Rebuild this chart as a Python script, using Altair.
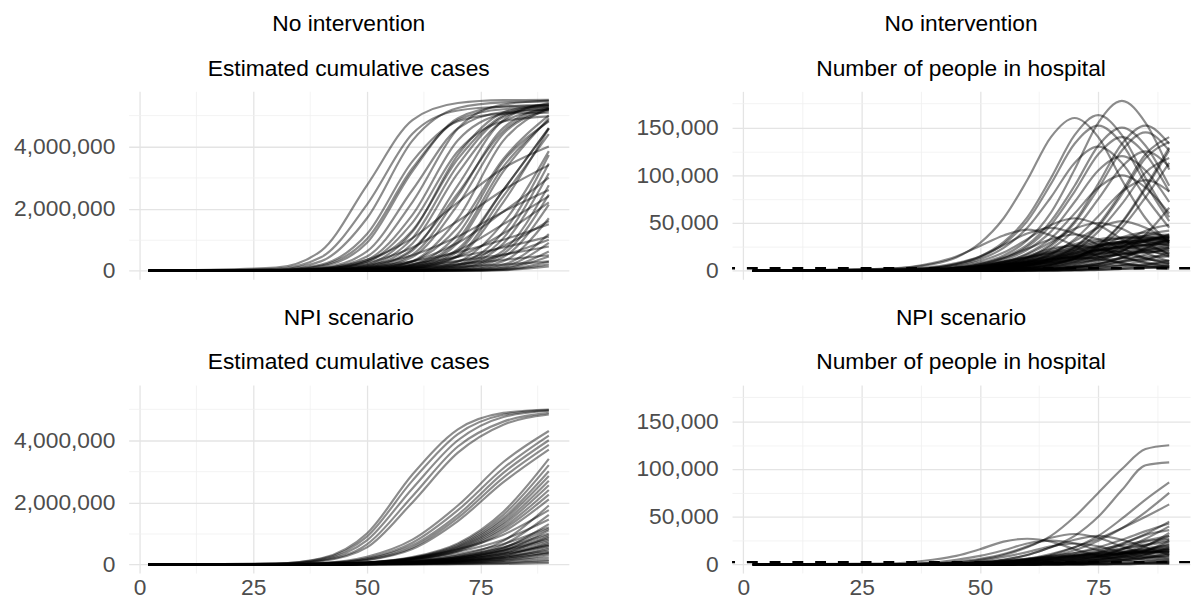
import altair as alt
import pandas as pd

# ---------------- data ----------------
DAYS_CASES = [2, 30, 40, 50, 60, 70, 80, 90]
DAYS_HOSP = [2, 30, 40, 45, 50, 55, 60, 65, 70, 75, 80, 85, 90]

# No intervention: estimated cumulative cases (millions), one list per simulation run
NOINT_CASES_M = [
    [0, 0.10, 0.65, 2.75, 4.85, 5.40, 5.49, 5.50],
    [0, 0.06, 0.44, 2.13, 4.41, 5.16, 5.28, 5.30],
    [0, 0.04, 0.31, 1.69, 4.19, 5.24, 5.42, 5.45],
    [0, 0.03, 0.20, 1.18, 3.52, 4.81, 5.06, 5.09],
    [0, 0.02, 0.14, 0.90, 3.20, 4.91, 5.29, 5.34],
    [0, 0.01, 0.09, 0.62, 2.60, 4.58, 5.11, 5.19],
    [0, 0.01, 0.07, 0.46, 2.21, 4.58, 5.35, 5.48],
    [0, 0.00, 0.04, 0.29, 1.55, 3.85, 4.81, 4.97],
    [0, 0.00, 0.03, 0.21, 1.25, 3.73, 5.09, 5.36],
    [0, 0.00, 0.02, 0.14, 0.88, 3.14, 4.81, 5.19],
    [0, 0.00, 0.01, 0.10, 0.65, 2.75, 4.85, 5.40],
    [0, 0.00, 0.01, 0.06, 0.44, 2.13, 4.41, 5.16],
    [0, 0.00, 0.01, 0.04, 0.31, 1.69, 4.19, 5.24],
    [0, 0.00, 0.00, 0.03, 0.20, 1.18, 3.52, 4.81],
    [0, 0.00, 0.00, 0.02, 0.14, 0.90, 3.20, 4.91],
    [0, 0.00, 0.00, 0.01, 0.09, 0.62, 2.60, 4.58],
    [0, 0.00, 0.00, 0.01, 0.07, 0.46, 2.21, 4.58],
    [0, 0.00, 0.00, 0.00, 0.04, 0.29, 1.55, 3.85],
    [0, 0.00, 0.00, 0.00, 0.03, 0.21, 1.25, 3.73],
    [0, 0.00, 0.00, 0.00, 0.02, 0.14, 0.88, 3.14],
    [0, 0.00, 0.00, 0.00, 0.01, 0.10, 0.65, 2.75],
    [0, 0.00, 0.00, 0.00, 0.01, 0.06, 0.44, 2.13],
    [0, 0.00, 0.00, 0.00, 0.01, 0.04, 0.31, 1.69],
    [0, 0.00, 0.00, 0.00, 0.00, 0.03, 0.20, 1.18],
    [0, 0.00, 0.00, 0.00, 0.00, 0.02, 0.14, 0.90],
    [0, 0.00, 0.00, 0.00, 0.00, 0.01, 0.09, 0.62],
    [0, 0.00, 0.00, 0.00, 0.00, 0.01, 0.07, 0.46],
    [0, 0.00, 0.00, 0.00, 0.00, 0.00, 0.04, 0.29],
    [0, 0.00, 0.00, 0.00, 0.00, 0.00, 0.03, 0.21],
    [0, 0.00, 0.00, 0.00, 0.00, 0.00, 0.02, 0.14],
    [0, 0.01, 0.04, 0.12, 0.30, 0.60, 1.00, 1.50],
    [0, 0.01, 0.03, 0.09, 0.22, 0.45, 0.75, 1.10],
    [0, 0.01, 0.03, 0.07, 0.16, 0.32, 0.52, 0.78],
    [0, 0.00, 0.02, 0.05, 0.11, 0.21, 0.35, 0.50],
    [0, 0.00, 0.01, 0.03, 0.07, 0.13, 0.20, 0.30],
    [0, 0.01, 0.05, 0.18, 0.50, 1.10, 1.90, 2.60],
    [0, 0.01, 0.06, 0.25, 0.75, 1.60, 2.60, 3.40],
    [0, 0.02, 0.08, 0.35, 1.05, 2.20, 3.30, 4.00],
    [0, 0.00, 0.02, 0.08, 0.30, 0.90, 1.90, 3.00],
    [0, 0.00, 0.01, 0.05, 0.20, 0.65, 1.50, 2.40],
    [0, 0.02, 0.17, 1.02, 3.30, 4.85, 5.20, 5.25],
    [0, 0.01, 0.05, 0.35, 1.80, 4.20, 5.05, 5.20],
    [0, 0.00, 0.02, 0.17, 1.05, 3.40, 4.95, 5.30],
    [0, 0.00, 0.01, 0.08, 0.52, 2.40, 4.60, 5.25],
    [0, 0.00, 0.00, 0.02, 0.17, 1.00, 3.35, 4.85],
    [0, 0.00, 0.00, 0.01, 0.08, 0.50, 2.40, 4.40],
    [0, 0.00, 0.00, 0.00, 0.02, 0.17, 1.05, 3.45],
    [0, 0.00, 0.00, 0.00, 0.01, 0.08, 0.55, 2.45],
    [0, 0.01, 0.06, 0.30, 1.30, 3.60, 5.00, 5.35],
    [0, 0.00, 0.02, 0.12, 0.70, 2.50, 4.50, 5.20],
    [0, 0.00, 0.01, 0.05, 0.30, 1.40, 3.60, 5.00],
    [0, 0.00, 0.00, 0.02, 0.12, 0.70, 2.60, 4.60],
    [0, 0.00, 0.01, 0.04, 0.15, 0.45, 1.20, 2.20],
    [0, 0.00, 0.01, 0.03, 0.10, 0.30, 0.80, 1.60],
    [0, 0.00, 0.00, 0.02, 0.06, 0.20, 0.50, 1.00],
]

# No intervention: number of people in hospital (thousands)
NOINT_HOSP_K = [
    [0, 2, 7, 14, 29, 55, 95, 140, 160, 140, 95, 55, 29],
    [0, 1, 3, 7, 14, 28, 52, 91, 133, 152, 133, 91, 52],
    [0, 0, 2, 4, 8, 16, 32, 61, 106, 155, 178, 155, 106],
    [0, 1, 3, 7, 15, 30, 56, 97, 142, 163, 142, 97, 56],
    [0, 0, 1, 3, 7, 14, 27, 52, 89, 131, 150, 131, 89],
    [0, 0, 1, 1, 3, 6, 13, 26, 50, 86, 126, 145, 126],
    [0, 0, 1, 2, 3, 7, 14, 28, 52, 91, 133, 152, 133],
    [0, 0, 0, 1, 1, 3, 6, 13, 25, 48, 83, 122, 140],
    [0, 0, 0, 1, 1, 3, 6, 12, 24, 46, 80, 118, 135],
    [0, 1, 3, 6, 12, 24, 45, 77, 113, 130, 113, 77, 45],
    [0, 0, 1, 3, 5, 11, 22, 41, 72, 105, 120, 105, 72],
    [0, 0, 0, 0, 1, 1, 3, 6, 13, 26, 50, 86, 126],
    [0, 0, 0, 0, 1, 1, 3, 6, 12, 24, 45, 77, 113],
    [0, 0, 0, 0, 0, 1, 1, 2, 5, 10, 20, 38, 66],
    [0, 0, 0, 0, 1, 1, 3, 6, 13, 27, 51, 88, 129],
    [0, 0, 1, 2, 4, 9, 18, 34, 60, 87, 100, 87, 60],
    [0, 0, 0, 1, 2, 4, 9, 17, 33, 57, 83, 95, 83],
    [0, 0, 1, 1, 3, 5, 11, 23, 43, 75, 109, 125, 109],
    [0, 0, 1, 3, 6, 13, 25, 48, 83, 122, 140, 122, 83],
    [0, 0, 0, 1, 1, 2, 5, 11, 21, 41, 70, 103, 118],
    [0, 2, 8, 15, 26, 37, 43, 37, 26, 15, 8, 4, 2],
    [0, 1, 2, 5, 10, 19, 33, 48, 55, 48, 33, 19, 10],
    [0, 0, 1, 2, 5, 9, 17, 30, 44, 50, 44, 30, 17],
    [0, 0, 1, 1, 2, 5, 9, 18, 31, 45, 52, 45, 31],
    [0, 1, 4, 8, 15, 27, 39, 45, 39, 27, 15, 8, 4],
    [0, 0, 0, 0, 1, 2, 4, 7, 14, 24, 35, 40, 35],
    [0, 0, 0, 0, 0, 1, 2, 4, 9, 17, 29, 42, 48],
    [0, 0, 2, 3, 7, 13, 23, 33, 38, 33, 23, 13, 7],
    [0, 0, 0, 0, 0, 1, 2, 3, 6, 12, 21, 31, 35],
    [0, 0, 0, 0, 1, 1, 3, 5, 10, 18, 26, 30, 26],
    [0, 0, 0, 0, 0, 0, 1, 2, 3, 7, 13, 23, 33],
    [0, 0, 0, 1, 1, 2, 5, 9, 15, 22, 25, 22, 15],
    [0, 0, 0, 0, 0, 0, 1, 1, 3, 5, 10, 17, 24],
    [0, 0, 0, 0, 0, 1, 2, 4, 7, 12, 17, 20, 17],
    [0, 0, 0, 0, 0, 0, 0, 1, 1, 3, 6, 11, 20],
    [0, 0, 0, 0, 0, 0, 1, 1, 3, 5, 9, 13, 15],
    [0, 0, 0, 1, 2, 4, 8, 13, 19, 22, 19, 13, 8],
    [0, 0, 0, 0, 0, 0, 0, 0, 1, 2, 3, 6, 11],
    [0, 0, 0, 0, 0, 1, 1, 2, 4, 7, 10, 12, 10],
    [0, 0, 0, 0, 0, 0, 0, 1, 1, 3, 5, 7, 8],
    [0, 0, 1, 2, 5, 9, 15, 23, 26, 23, 15, 9, 5],
    [0, 0, 0, 0, 0, 0, 0, 0, 0, 1, 2, 3, 6],
    [0, 0, 0, 1, 1, 3, 5, 10, 18, 26, 30, 26, 18],
    [0, 0, 0, 0, 1, 2, 3, 7, 12, 21, 31, 36, 31],
    [0, 0, 1, 1, 3, 5, 8, 12, 14, 12, 8, 5, 3],
    [0, 0, 0, 0, 0, 0, 1, 2, 4, 7, 14, 24, 35],
    [0, 0, 0, 0, 0, 1, 1, 2, 4, 5, 6, 5, 4],
    [0, 0, 0, 0, 0, 0, 0, 0, 1, 1, 2, 3, 4],
    [0, 0, 0, 0, 0, 1, 1, 2, 4, 8, 14, 21, 24],
    [0, 0, 0, 0, 0, 1, 2, 4, 8, 14, 25, 37, 42],
    [0, 0, 1, 2, 4, 6, 9, 12, 15, 18, 21, 24, 27],
    [0, 0, 1, 2, 3, 5, 7, 9, 12, 14, 17, 19, 22],
    [0, 0, 0, 1, 2, 4, 6, 9, 13, 17, 22, 27, 32],
    [0, 0, 1, 3, 6, 10, 14, 18, 22, 26, 29, 32, 34],
    [0, 0, 1, 2, 4, 7, 11, 16, 21, 26, 30, 33, 36],
    [0, 0, 0, 1, 3, 5, 8, 12, 17, 22, 27, 31, 38],
    [0, 0, 1, 2, 3, 6, 9, 13, 17, 21, 24, 27, 29],
    [0, 0, 0, 1, 2, 3, 5, 8, 11, 14, 18, 22, 26],
    [0, 0, 1, 2, 4, 8, 13, 19, 24, 28, 30, 31, 30],
    [0, 0, 0, 1, 2, 4, 7, 11, 16, 21, 25, 28, 31],
    [0, 0, 1, 2, 4, 7, 11, 16, 22, 27, 31, 34, 36],
    [0, 0, 1, 2, 3, 6, 10, 15, 20, 25, 29, 32, 33],
    [0, 0, 0, 1, 3, 5, 9, 14, 19, 24, 28, 30, 31],
    [0, 0, 1, 2, 4, 6, 10, 14, 18, 22, 25, 27, 28],
    [0, 0, 0, 1, 2, 4, 7, 11, 15, 19, 23, 26, 29],
    [0, 0, 1, 2, 3, 5, 8, 11, 14, 17, 20, 22, 24],
    [0, 0, 0, 1, 2, 4, 6, 9, 12, 15, 18, 20, 21],
    [0, 0, 0, 1, 2, 3, 5, 7, 9, 11, 13, 15, 16],
    [0, 0, 1, 2, 4, 7, 12, 18, 24, 30, 34, 37, 38],
    [0, 0, 0, 1, 2, 3, 6, 10, 15, 20, 26, 32, 37],
    [0, 0, 1, 3, 5, 9, 14, 20, 26, 31, 34, 35, 34],
    [0, 0, 1, 2, 4, 8, 14, 21, 28, 33, 35, 34, 31],
]

# NPI scenario: estimated cumulative cases (millions)
NPI_CASES_M = [
    [0, 0.03, 0.20, 1.00, 2.90, 4.35, 4.88, 4.99],
    [0, 0.03, 0.18, 0.90, 2.70, 4.20, 4.82, 4.97],
    [0, 0.02, 0.15, 0.78, 2.45, 4.00, 4.75, 4.95],
    [0, 0.02, 0.13, 0.65, 2.20, 3.80, 4.60, 4.88],
    [0, 0.02, 0.11, 0.55, 2.00, 3.60, 4.50, 4.83],
    [0, 0.01, 0.05, 0.25, 0.80, 1.90, 3.30, 4.30],
    [0, 0.01, 0.04, 0.20, 0.70, 1.75, 3.10, 4.15],
    [0, 0.01, 0.04, 0.18, 0.62, 1.60, 2.95, 4.00],
    [0, 0.01, 0.03, 0.15, 0.55, 1.50, 2.80, 3.85],
    [0, 0.00, 0.03, 0.14, 0.50, 1.40, 2.65, 3.70],
    [0, 0.00, 0.02, 0.07, 0.24, 0.68, 1.70, 3.40],
    [0, 0.00, 0.02, 0.06, 0.22, 0.64, 1.60, 3.20],
    [0, 0.00, 0.02, 0.06, 0.21, 0.60, 1.50, 3.00],
    [0, 0.00, 0.01, 0.06, 0.20, 0.57, 1.43, 2.85],
    [0, 0.00, 0.01, 0.05, 0.19, 0.54, 1.35, 2.70],
    [0, 0.00, 0.01, 0.05, 0.18, 0.51, 1.28, 2.55],
    [0, 0.00, 0.01, 0.05, 0.17, 0.48, 1.20, 2.40],
    [0, 0.00, 0.01, 0.05, 0.16, 0.45, 1.13, 2.25],
    [0, 0.00, 0.01, 0.04, 0.15, 0.42, 1.05, 2.10],
    [0, 0.00, 0.01, 0.03, 0.10, 0.29, 0.76, 1.90],
    [0, 0.00, 0.02, 0.07, 0.21, 0.49, 0.96, 1.75],
    [0, 0.00, 0.01, 0.02, 0.08, 0.24, 0.64, 1.60],
    [0, 0.00, 0.01, 0.06, 0.17, 0.41, 0.80, 1.45],
    [0, 0.00, 0.01, 0.02, 0.07, 0.20, 0.52, 1.30],
    [0, 0.00, 0.01, 0.05, 0.14, 0.34, 0.66, 1.20],
    [0, 0.00, 0.01, 0.02, 0.06, 0.17, 0.44, 1.10],
    [0, 0.00, 0.01, 0.04, 0.12, 0.28, 0.55, 1.00],
    [0, 0.00, 0.00, 0.01, 0.05, 0.14, 0.36, 0.90],
    [0, 0.00, 0.01, 0.03, 0.10, 0.22, 0.44, 0.80],
    [0, 0.00, 0.00, 0.01, 0.04, 0.11, 0.28, 0.70],
    [0, 0.00, 0.01, 0.02, 0.07, 0.17, 0.33, 0.60],
    [0, 0.00, 0.00, 0.01, 0.03, 0.08, 0.20, 0.50],
    [0, 0.00, 0.00, 0.02, 0.05, 0.11, 0.22, 0.40],
    [0, 0.00, 0.00, 0.01, 0.02, 0.05, 0.12, 0.30],
    [0, 0.00, 0.00, 0.01, 0.03, 0.06, 0.12, 0.22],
    [0, 0.00, 0.00, 0.00, 0.01, 0.03, 0.07, 0.15],
    [0, 0.00, 0.00, 0.00, 0.01, 0.03, 0.05, 0.10],
    [0, 0.00, 0.00, 0.00, 0.00, 0.01, 0.02, 0.05],
    [0, 0.00, 0.01, 0.03, 0.08, 0.18, 0.38, 0.75],
    [0, 0.00, 0.01, 0.02, 0.05, 0.12, 0.25, 0.45],
    [0, 0.00, 0.00, 0.01, 0.04, 0.09, 0.18, 0.35],
    [0, 0.00, 0.01, 0.03, 0.09, 0.24, 0.55, 1.15],
    [0, 0.00, 0.01, 0.02, 0.06, 0.15, 0.35, 0.65],
    [0, 0.00, 0.01, 0.03, 0.08, 0.20, 0.45, 0.85],
    [0, 0.00, 0.00, 0.01, 0.04, 0.10, 0.24, 0.55],
    [0, 0.00, 0.01, 0.02, 0.05, 0.13, 0.30, 0.62],
    [0, 0.00, 0.01, 0.03, 0.09, 0.22, 0.48, 0.95],
    [0, 0.00, 0.00, 0.01, 0.03, 0.07, 0.16, 0.38],
]

# NPI scenario: number of people in hospital (thousands)
NPI_HOSP_K = [
    [0, 0, 1, 2, 5, 10, 18, 30, 50, 75, 100, 121, 125],
    [0, 0, 0, 1, 2, 5, 10, 18, 30, 50, 78, 104, 107],
    [0, 0, 0, 0, 1, 2, 5, 10, 18, 30, 48, 68, 86],
    [0, 0, 0, 0, 1, 2, 5, 9, 15, 25, 38, 55, 75],
    [0, 0, 0, 0, 1, 3, 6, 11, 18, 27, 38, 50, 63],
    [0, 0, 0, 0, 0, 1, 3, 5, 9, 14, 22, 32, 45],
    [0, 0, 0, 1, 2, 3, 5, 8, 12, 18, 26, 35, 43],
    [0, 1, 5, 9, 16, 24, 27, 24, 16, 9, 5, 2, 1],
    [0, 0, 1, 3, 6, 11, 19, 28, 32, 28, 19, 11, 6],
    [0, 0, 2, 5, 9, 15, 22, 25, 22, 15, 9, 5, 2],
    [0, 0, 1, 1, 3, 5, 10, 18, 26, 30, 26, 18, 10],
    [0, 0, 1, 2, 4, 8, 13, 19, 22, 19, 13, 8, 4],
    [0, 0, 0, 0, 0, 0, 1, 2, 4, 8, 16, 27, 40],
    [0, 0, 0, 0, 0, 1, 2, 3, 7, 12, 21, 31, 36],
    [0, 0, 0, 0, 0, 0, 1, 1, 2, 5, 10, 19, 33],
    [0, 0, 0, 0, 0, 0, 1, 1, 3, 6, 12, 20, 30],
    [0, 0, 0, 0, 0, 1, 1, 2, 5, 9, 16, 24, 27],
    [0, 0, 0, 0, 0, 0, 0, 1, 2, 4, 8, 14, 25],
    [0, 0, 0, 0, 0, 0, 1, 1, 2, 5, 9, 15, 22],
    [0, 0, 0, 0, 0, 0, 1, 2, 4, 7, 12, 17, 20],
    [0, 0, 0, 0, 0, 0, 0, 1, 1, 3, 5, 10, 18],
    [0, 0, 0, 0, 0, 0, 0, 1, 2, 3, 6, 11, 16],
    [0, 0, 0, 0, 0, 0, 1, 1, 3, 5, 8, 12, 14],
    [0, 0, 0, 0, 0, 0, 0, 0, 1, 2, 4, 7, 12],
    [0, 0, 0, 0, 0, 0, 0, 1, 1, 2, 4, 7, 10],
    [0, 0, 0, 0, 0, 0, 0, 1, 1, 3, 5, 7, 8],
    [0, 0, 0, 0, 0, 0, 0, 0, 1, 1, 2, 4, 6],
    [0, 0, 0, 0, 0, 0, 0, 0, 0, 1, 1, 2, 4],
    [0, 0, 0, 0, 0, 0, 0, 0, 0, 1, 1, 2, 3],
    [0, 0, 0, 0, 0, 0, 0, 0, 0, 0, 1, 1, 2],
    [0, 0, 0, 0, 0, 0, 0, 0, 0, 0, 0, 1, 1],
    [0, 0, 0, 1, 2, 4, 6, 8, 10, 12, 14, 16, 18],
    [0, 0, 0, 1, 2, 3, 5, 7, 9, 11, 13, 15, 17],
    [0, 0, 0, 1, 1, 2, 4, 6, 8, 10, 12, 14, 15],
    [0, 0, 0, 0, 1, 2, 3, 5, 7, 9, 11, 13, 13],
    [0, 0, 1, 1, 2, 4, 6, 9, 12, 16, 20, 25, 30],
    [0, 0, 0, 1, 2, 3, 5, 7, 10, 13, 17, 21, 26],
    [0, 0, 0, 1, 1, 2, 3, 5, 7, 9, 11, 13, 15],
    [0, 0, 0, 0, 1, 2, 3, 4, 6, 8, 10, 12, 13],
    [0, 0, 1, 1, 2, 3, 5, 7, 9, 11, 12, 13, 13],
    [0, 0, 0, 1, 2, 3, 4, 6, 8, 10, 12, 14, 16],
    [0, 0, 0, 0, 1, 1, 2, 4, 6, 8, 11, 15, 20],
    [0, 0, 0, 1, 1, 2, 4, 6, 9, 12, 16, 20, 24],
    [0, 0, 0, 0, 1, 2, 3, 4, 5, 7, 8, 10, 11],
    [0, 0, 0, 0, 0, 1, 2, 3, 4, 5, 7, 8, 9],
]

HOSP_CAPACITY = 2500

PANEL_TITLES = ["No intervention", "NPI scenario"]
PANEL_SUBTITLES = ["Estimated cumulative cases", "Number of people in hospital"]

X_GRID = [0, 12.5, 25, 37.5, 50, 62.5, 75, 87.5]
CASES_GRID = [0, 1000000, 2000000, 3000000, 4000000, 5000000]
HOSP_GRID = [0, 25000, 50000, 75000, 100000, 125000, 150000, 175000]

FONT = "Liberation Sans"


def frame(runs, days, unit):
    rows = []
    for i, run in enumerate(runs):
        for d, v in zip(days, run):
            rows.append({"run": i, "day": d, "value": v * unit})
    return pd.DataFrame(rows)


def grid_color(step):
    return {"condition": {"test": f"datum.value % {step} === 0", "value": "#e4e4e4"},
            "value": "#f0f0f0"}


def grid_width(step):
    return {"condition": {"test": f"datum.value % {step} === 0", "value": 1.3},
            "value": 0.8}


def panel(df, title, subtitle, domain, grid_vals, major, width, bottom, hosp):
    if bottom:
        xaxis = alt.Axis(values=X_GRID, title=None, ticks=False, domain=False,
                         labelExpr="datum.value % 25 === 0 ? datum.label : ''",
                         labelFont=FONT, labelFontSize=23, labelColor="#4d4d4d",
                         labelPadding=4, gridColor=grid_color(25), gridWidth=grid_width(25))
    else:
        xaxis = alt.Axis(values=X_GRID, title=None, ticks=False, domain=False, labels=False,
                         gridColor=grid_color(25), gridWidth=grid_width(25))
    yaxis = alt.Axis(values=grid_vals, title=None, ticks=False, domain=False,
                     labelExpr=f"datum.value % {major} === 0 ? format(datum.value, ',') : ''",
                     labelFont=FONT, labelFontSize=23, labelColor="#4d4d4d", labelPadding=14,
                     gridColor=grid_color(major), gridWidth=grid_width(major))
    yscale = alt.Scale(domain=domain, nice=False, zero=False)
    lines = alt.Chart(df).mark_line(
        interpolate="monotone", color="black", opacity=0.45, strokeWidth=2.2, clip=True
    ).encode(
        x=alt.X("day:Q", scale=alt.Scale(domain=[-2.4, 94.4], nice=False, zero=False), axis=xaxis),
        y=alt.Y("value:Q", scale=yscale, axis=yaxis),
        detail="run:N",
    )
    layers = [lines]
    if hosp:
        cap = alt.Chart(pd.DataFrame({"value": [HOSP_CAPACITY]})).mark_rule(
            color="black", strokeDash=[11, 12], strokeWidth=2.5
        ).encode(y=alt.Y("value:Q", scale=yscale, axis=yaxis))
        layers.append(cap)
    return alt.layer(*layers).properties(
        width=width, height=190,
        title=alt.TitleParams(
            text=title, subtitle=subtitle, font=FONT, fontSize=23, fontWeight="normal",
            color="black", subtitleFont=FONT, subtitleFontSize=23, subtitleColor="black",
            anchor="middle", frame="group", offset=11, subtitlePadding=22,
        ),
    )


CASES_DOMAIN = [-275000, 5775000]
HOSP_DOMAIN = [-8950, 187950]

p1 = panel(frame(NOINT_CASES_M, DAYS_CASES, 1e6), PANEL_TITLES[0], PANEL_SUBTITLES[0],
           CASES_DOMAIN, CASES_GRID, 2000000, 445, False, False)
p2 = panel(frame(NOINT_HOSP_K, DAYS_HOSP, 1e3), PANEL_TITLES[0], PANEL_SUBTITLES[1],
           HOSP_DOMAIN, HOSP_GRID, 50000, 463, False, True)
p3 = panel(frame(NPI_CASES_M, DAYS_CASES, 1e6), PANEL_TITLES[1], PANEL_SUBTITLES[0],
           CASES_DOMAIN, CASES_GRID, 2000000, 445, True, False)
p4 = panel(frame(NPI_HOSP_K, DAYS_HOSP, 1e3), PANEL_TITLES[1], PANEL_SUBTITLES[1],
           HOSP_DOMAIN, HOSP_GRID, 50000, 463, True, True)

chart = alt.vconcat(
    alt.hconcat(p1, p2, spacing=67),
    alt.hconcat(p3, p4, spacing=67),
    spacing=24,
).properties(
    padding={"left": 5, "top": 2, "right": 0, "bottom": 0}
).configure(background="white").configure_view(stroke=None)

chart.save("out.html", embed_options={"renderer": "svg", "actions": False})
